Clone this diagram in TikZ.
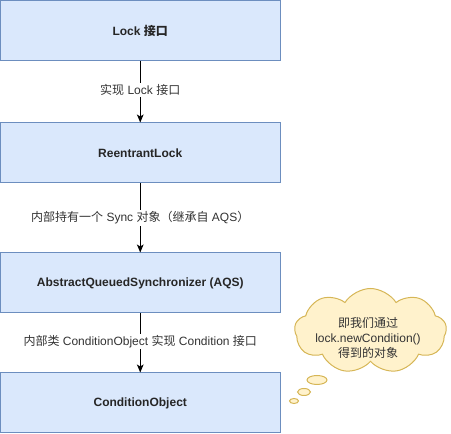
\documentclass[tikz,border=0pt]{standalone}
\usepackage{fontspec}
\setmainfont{Liberation Sans}
\newfontfamily\cjk{Noto Sans CJK SC}
\usetikzlibrary{shapes.symbols,shapes.geometric,arrows.meta}
\begin{document}
\begin{tikzpicture}[x=0.75pt,y=-0.75pt,
  box/.style={draw=blueedge,fill=bluefill,line width=0.75pt,minimum width=279.5*0.75pt,minimum height=60*0.75pt,inner sep=0pt,font=\fontsize{9}{11}\selectfont\bfseries,text=black!85},
  lbl/.style={fill=white,inner sep=1pt,font=\fontsize{9}{11}\selectfont,text=black!80},
  conn/.style={line width=0.75pt,-{Stealth[length=6pt,width=5pt,inset=1.5pt]}},
  bub/.style={draw=yellowedge,fill=yellowfill,line width=0.75pt,ellipse,inner sep=0pt}
]
\definecolor{bluefill}{HTML}{DAE8FC}
\definecolor{blueedge}{HTML}{6C8EBF}
\definecolor{yellowfill}{HTML}{FFF2CC}
\definecolor{yellowedge}{HTML}{D6B656}
\useasboundingbox (0,0) rectangle (451,434);
\node[box] (lock) at (140.25,30.5) {Lock {\cjk 接口}};
\node[box] (rl) at (140.25,153) {ReentrantLock};
\node[box] (aqs) at (140.25,283) {AbstractQueuedSynchronizer (AQS)};
\node[box] (co) at (140.25,403) {ConditionObject};
\draw[conn] (lock) -- node[lbl,pos=0.47] {{\cjk 实现} Lock {\cjk 接口}} (rl);
\draw[conn] (rl) -- node[lbl,pos=0.5] {{\cjk 内部持有一个} Sync {\cjk 对象（继承自} AQS{\cjk ）}} (aqs);
\draw[conn] (aqs) -- node[lbl,pos=0.47] {{\cjk 内部类} ConditionObject {\cjk 实现} Condition {\cjk 接口}} (co);
\node[cloud,cloud puffs=9,cloud puff arc=115,draw=yellowedge,fill=yellowfill,line width=0.75pt,minimum width=152*0.75pt,minimum height=85*0.75pt,inner sep=0pt] (cloud) at (370.5,331) {};
\node[align=center,font=\fontsize{9}{11.5}\selectfont,text=black!80] (ctext) at (368,338) {{\cjk 即我们通过}\\lock.newCondition()\\{\cjk 得到的对象}};
\node[bub,minimum width=20*0.75pt,minimum height=9*0.75pt] (b1) at (317,380) {};
\node[bub,minimum width=13*0.75pt,minimum height=7*0.75pt] (b2) at (304,392) {};
\node[bub,minimum width=9*0.75pt,minimum height=5*0.75pt] (b3) at (294,401) {};
\end{tikzpicture}
\end{document}
